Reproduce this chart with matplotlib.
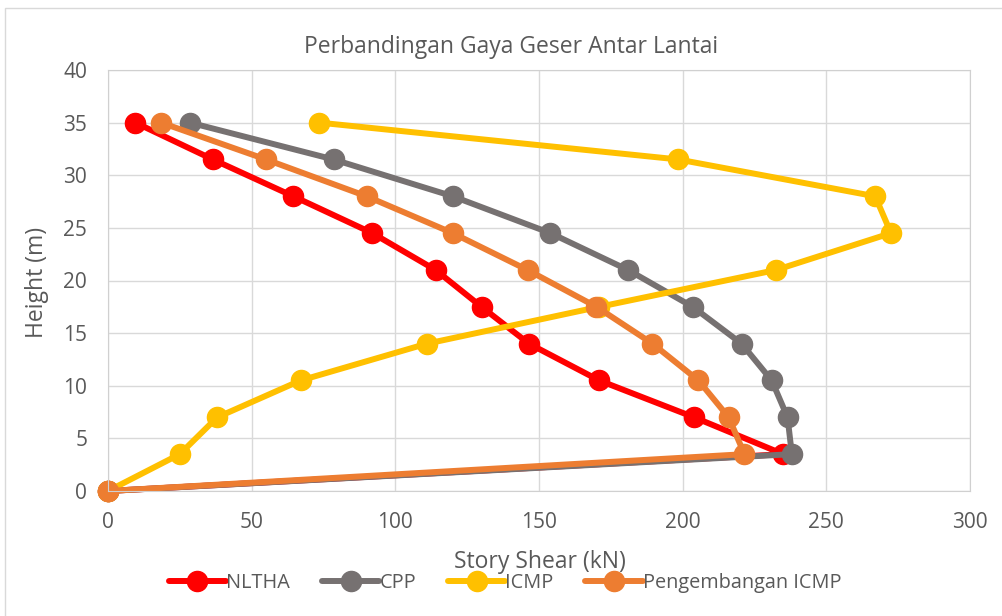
import matplotlib
matplotlib.use("Agg")
import matplotlib.pyplot as plt
from matplotlib.patches import Rectangle

heights = [0, 3.5, 7, 10.5, 14, 17.5, 21, 24.5, 28, 31.5, 35]
nltha = [0, 235, 204, 171, 146.5, 130, 114, 92, 64.5, 36.5, 9.5]
cpp = [0, 238, 236.5, 231, 220.5, 203.5, 181, 154, 120, 78.5, 28.5]
icmp = [0, 25, 38, 67, 111, 171, 232.5, 272.5, 267, 198.5, 73.5]
peng_icmp = [0, 221.5, 216, 205.5, 189.5, 170, 146, 120, 90, 55, 18.5]

series = [("NLTHA", nltha, "#FF0000"), ("CPP", cpp, "#767171"),
          ("ICMP", icmp, "#FFC000"), ("Pengembangan ICMP", peng_icmp, "#ED7D31")]

TXT = '#595959'
plt.rcParams['font.family'] = ['Open Sans', 'DejaVu Sans']
fig = plt.figure(figsize=(10.03, 6.16), dpi=100)
W, H = 1003, 616
ax = fig.add_axes([108 / W, 1 - 491 / H, (970 - 108) / W, (491 - 70) / H])

fig.patches.append(Rectangle((5 / W, -0.01), 1.2, 1 - 8 / H + 0.01, transform=fig.transFigure,
                             fill=False, edgecolor='#D9D9D9', linewidth=1.0))

for name, vals, col in series:
    ax.plot(vals, heights, color=col, linewidth=4.3, marker='o', markersize=14.5,
            label=name, solid_capstyle='round', solid_joinstyle='round', clip_on=False)

ax.set_xlim(0, 300)
ax.set_ylim(0, 40)
ax.set_xticks(range(0, 301, 50))
ax.set_yticks(range(0, 41, 5))
ax.grid(True, color='#D9D9D9', linewidth=1.0)
ax.set_axisbelow(True)
for s in ['top', 'right', 'left', 'bottom']:
    ax.spines[s].set_color('#D0D0D0')
ax.tick_params(length=0, labelsize=15, colors=TXT)
ax.tick_params(axis='x', pad=15)
ax.tick_params(axis='y', pad=15)

fig.text(511 / W, 1 - 47 / H, "Perbandingan Gaya Geser Antar Lantai", fontsize=16.5,
         color=TXT, ha='center', va='center')
fig.text(540 / W, 1 - 562 / H, "Story Shear (kN)", fontsize=16.5,
         color=TXT, ha='center', va='center')
fig.text(37 / W, 1 - 282 / H, "Height (m)", fontsize=16.5, rotation=90,
         color=TXT, ha='center', va='center')

leg = fig.legend(loc='center', bbox_to_anchor=(505 / W, 1 - 583 / H), ncol=4, frameon=False,
                 fontsize=14.3, handlelength=2.9, handletextpad=0.0, columnspacing=1.6,
                 labelcolor=TXT, markerscale=1.0, borderaxespad=0, borderpad=0)

fig.savefig("out.png", dpi=100)
